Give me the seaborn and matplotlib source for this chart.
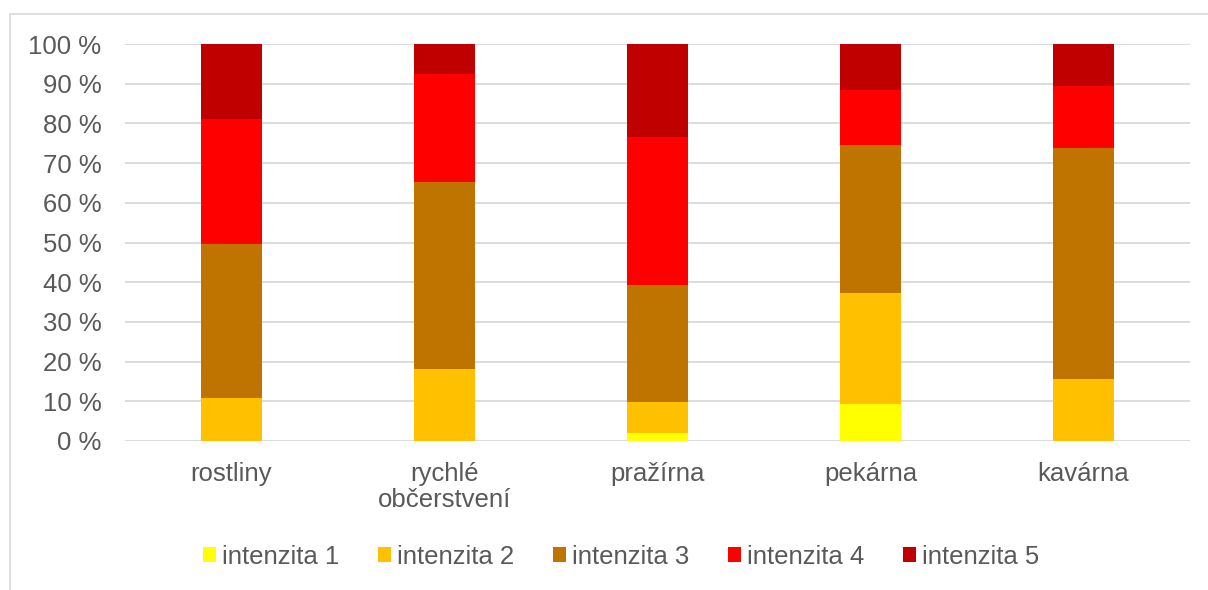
import matplotlib
matplotlib.use('Agg')
import matplotlib.pyplot as plt
from matplotlib.patches import Patch, Rectangle
import pandas as pd
import seaborn as sns

# data (percent of each bar)
categories = ['rostliny', 'rychlé\nobčerstvení', 'pražírna', 'pekárna', 'kavárna']
intenzita_1 = [0.0, 0.0, 1.9, 9.2, 0.0]
intenzita_2 = [10.8, 18.1, 7.8, 28.0, 15.7]
intenzita_3 = [38.8, 47.1, 29.5, 37.3, 58.0]
intenzita_4 = [31.4, 27.2, 37.3, 13.8, 15.8]
intenzita_5 = [19.0, 7.6, 23.5, 11.7, 10.5]
series_names = ['intenzita 1', 'intenzita 2', 'intenzita 3', 'intenzita 4', 'intenzita 5']
colors = ['#FFFF00', '#FFC000', '#C07400', '#FF0000', '#C00000']
yticks = [0, 10, 20, 30, 40, 50, 60, 70, 80, 90, 100]

df = pd.DataFrame({'kategorie': categories,
                   'intenzita 1': intenzita_1,
                   'intenzita 2': intenzita_2,
                   'intenzita 3': intenzita_3,
                   'intenzita 4': intenzita_4,
                   'intenzita 5': intenzita_5})

sns.set_theme(style='white')
plt.rcParams['font.family'] = ['Liberation Sans', 'DejaVu Sans']

W, H = 1208, 590
fig = plt.figure(figsize=(W / 100, H / 100), dpi=100)
fig.patch.set_facecolor('white')
# light outer frame like the Excel chart area
fig.patches.append(Rectangle((10 / W, -0.1), 1.2, 1 - 14 / H + 0.1,
                             transform=fig.transFigure, fill=False,
                             edgecolor='#D9D9D9', lw=1.2))

ax = fig.add_axes([125 / W, 1 - 441 / H, 1065 / W, 397 / H])

bottom = [0.0] * len(categories)
for name, col in zip(series_names, colors):
    sns.barplot(data=df, x='kategorie', y=name, color=col, bottom=bottom,
                width=0.286, saturation=1, ax=ax, zorder=3, linewidth=0)
    bottom = [b + v for b, v in zip(bottom, df[name])]

ax.set_xlim(-0.5, 4.5)
ax.set_ylim(0, 100)
ax.set_yticks(yticks)
ax.set_yticklabels([f'{t} %' for t in yticks])
ax.grid(axis='y', color='#D9D9D9', lw=1.3, zorder=0)
ax.set_axisbelow(True)
for s in ax.spines.values():
    s.set_visible(False)
ax.set_xlabel('')
ax.set_ylabel('')
ax.tick_params(axis='y', length=0, pad=17, labelsize=18.5, labelcolor='#595959')
ax.tick_params(axis='x', length=0, pad=15, labelsize=18.5, labelcolor='#595959')
for lab in ax.get_xticklabels():
    lab.set_linespacing(1.1)

handles = [Patch(facecolor=c, edgecolor='none') for c in colors]
fig.legend(handles, series_names, loc='center', ncol=5,
           bbox_to_anchor=(621 / W, 1 - 557 / H), frameon=False,
           fontsize=18.5, labelcolor='#595959', handlelength=0.52,
           handleheight=0.52, handletextpad=0.23, columnspacing=1.5)

fig.savefig('out.png', dpi=100)
